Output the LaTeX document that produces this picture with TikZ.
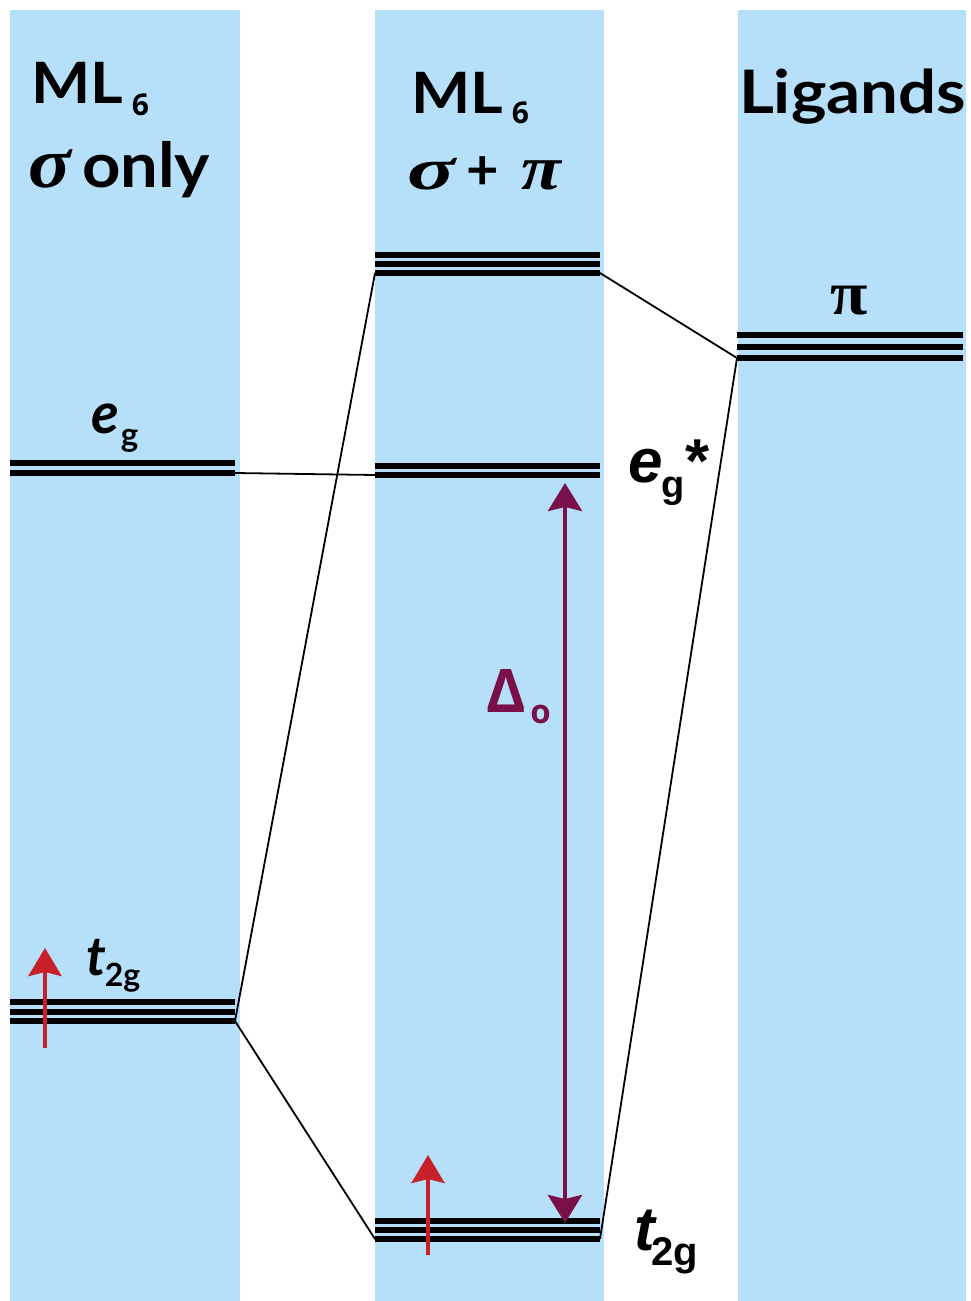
\documentclass[tikz,border=0pt]{standalone}
\usepackage{fontspec}
\setmainfont{Lato}[Numbers=Lining]
\newfontfamily\opensf{Open Sans}
\newfontfamily\arialf{Liberation Sans}
\newfontfamily\seriff{Liberation Serif}
\usetikzlibrary{arrows.meta}
\definecolor{colblue}{RGB}{182,224,250}
\definecolor{deltacol}{RGB}{122,16,74}
\definecolor{spinred}{RGB}{200,32,42}
\newcommand{\fs}[1]{\fontsize{#1}{#1}\selectfont}
\begin{document}
\begin{tikzpicture}[x=1pt,y=-1pt,
  level/.style={line width=6.5pt},
  conn/.style={line width=1.8pt},
  lbl/.style={inner sep=0pt, outer sep=0pt, anchor=base west},
  spin/.style={line width=4.5pt, spinred, -{Stealth[length=28pt,width=33pt,inset=4pt]}},
  gap/.style={line width=4pt, deltacol, {Stealth[length=28pt,width=34pt,inset=4pt]}-{Stealth[length=28pt,width=34pt,inset=4pt]}}]
\useasboundingbox (0,0) rectangle (970,1301);
\fill[white] (0,0) rectangle (970,1301);
% columns
\fill[colblue] (10,10) rectangle (240,1301);
\fill[colblue] (375,10) rectangle (604,1301);
\fill[colblue] (738,10) rectangle (966,1301);

% headers
\node[lbl] (mlA) at (31,103) {\fs{57}\bfseries\scalebox{1.1}[1]{ML}\hspace{9pt}\raisebox{-12pt}{\fs{30}\opensf 6}};
\node[lbl] (sigA) at (28,187) {\fs{72}\seriff\bfseries\itshape\scalebox{1.1}[1]{σ}};
\node[lbl] (onlyA) at (82,187) {\fs{62}\bfseries\scalebox{1.08}[1]{only}};

\node[lbl] (mlB) at (411,113) {\fs{57}\bfseries\scalebox{1.1}[1]{ML}\hspace{9pt}\raisebox{-10pt}{\fs{30}\opensf 6}};
\node[lbl] (sigB) at (407,189) {\fs{66}\seriff\bfseries\itshape\scalebox{1.35}[0.9]{σ}};
\node[lbl] (plusB) at (466,189) {\fs{56}\bfseries +};
\node[lbl] (piB) at (521,189) {\fs{66}\seriff\bfseries\itshape\scalebox{1.1}[0.95]{π}};

\node[lbl] (lig) at (739,113) {\fs{60}\bfseries\scalebox{1.12}[1]{Ligands}};
\node[inner sep=0pt] (piL) at (849,301) {\fs{62}\seriff\bfseries\scalebox{1.1}[1]{π}};

% level coordinates
\coordinate (egAl) at (10,473);  \coordinate (egAr) at (235,473);
\coordinate (tAl) at (10,1021);  \coordinate (tAr) at (235,1021);
\coordinate (topBl) at (375,273); \coordinate (topBr) at (600,273);
\coordinate (egBl) at (375,475); \coordinate (egBr) at (600,475);
\coordinate (tBl) at (375,1239); \coordinate (tBr) at (600,1239);
\coordinate (piLl) at (737,358); \coordinate (piLr) at (963,358);

% levels
\draw[level] (10,463) -- (235,463);
\draw[level] (egAl) -- (egAr);
\draw[level] (10,1002) -- (235,1002);
\draw[level] (10,1012) -- (235,1012);
\draw[level] (tAl) -- (tAr);
\draw[level] (375,255) -- (600,255);
\draw[level] (375,264) -- (600,264);
\draw[level] (topBl) -- (topBr);
\draw[level] (375,466) -- (600,466);
\draw[level] (egBl) -- (egBr);
\draw[level] (375,1221) -- (600,1221);
\draw[level] (375,1230) -- (600,1230);
\draw[level] (tBl) -- (tBr);
\draw[level] (737,335) -- (963,335);
\draw[level] (737,347) -- (963,347);
\draw[level] (piLl) -- (piLr);

% connectors
\draw[conn] (egAr) -- (egBl);
\draw[conn] (tAr) -- (topBl);
\draw[conn] (tAr) -- (tBl);
\draw[conn] (topBr) -- (piLl);
\draw[conn] (tBr) -- (piLl);

% level labels
\node[lbl] (egA) at (91,433) {\fs{57}\bfseries\itshape e\kern2pt\raisebox{-13pt}{\fs{33}\upshape g}};
\node[lbl] (tA) at (86,975) {\fs{54}\bfseries\itshape t\kern-1pt\raisebox{-11pt}{\fs{32}\upshape 2g}};

\node[lbl] (egB) at (628,482) {\fs{62}\arialf\bfseries\itshape e\kern-1pt\raisebox{-15pt}{\fs{38}\upshape g}\kern1pt{\upshape *}};
\node[lbl] (tB) at (634,1250) {\fs{62}\arialf\bfseries\itshape t\kern-3pt\raisebox{-15pt}{\fs{40}\upshape 2g}};

% Delta
\coordinate (dTop) at (565,483);
\coordinate (dBot) at (565,1223);
\draw[gap] (dTop) -- (dBot);
\node[lbl, text=deltacol] (dl) at (486,712) {\fs{60}\opensf\bfseries Δ\kern5pt\raisebox{-11pt}{\fs{33}o}};

% spins
\coordinate (s1a) at (45,1048); \coordinate (s1b) at (45,948);
\coordinate (s2a) at (428,1255); \coordinate (s2b) at (428,1155);
\draw[spin] (s1a) -- (s1b);
\draw[spin] (s2a) -- (s2b);
\end{tikzpicture}
\end{document}
